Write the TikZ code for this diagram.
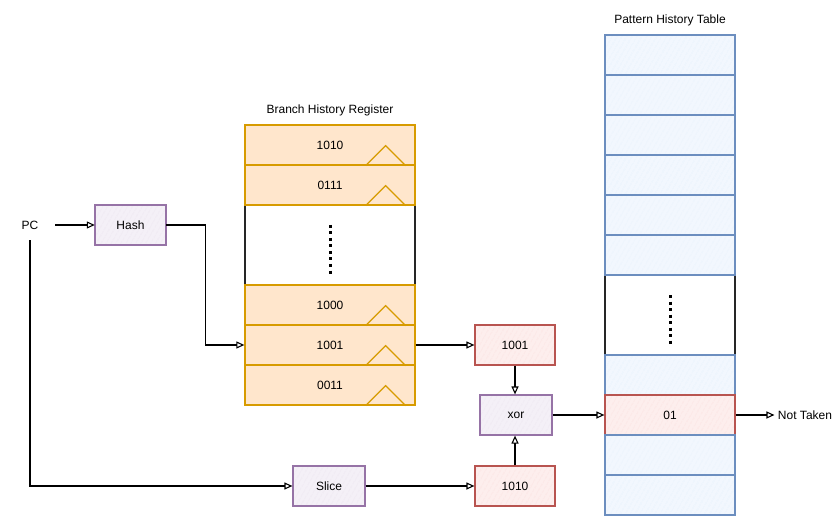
\documentclass[tikz,border=0pt]{standalone}
\usepackage{fontspec}
\setmainfont{Liberation Sans}
\definecolor{Orcolor}{HTML}{D79B00}
\definecolor{Orfill}{HTML}{FFE6CC}
\definecolor{Recolor}{HTML}{B85450}
\definecolor{Refill}{HTML}{F8CECC}
\definecolor{Pucolor}{HTML}{9673A6}
\definecolor{Pufill}{HTML}{E1D5E7}
\definecolor{Blcolor}{HTML}{6C8EBF}
\definecolor{Blfill}{HTML}{DAE8FC}
\usetikzlibrary{calc, positioning, arrows.meta, patterns.meta}

\begin{document}
\begin{tikzpicture}[
  x=1pt, y=-1pt,
  every node/.style={font=\fontsize{12}{14}\selectfont},
  bhrrow/.style={rectangle, draw=Orcolor, fill=Orfill, line width=1.3pt,
                 minimum width=170pt, minimum height=40pt},
  phtrow/.style={rectangle, draw=Blcolor, line width=1.2pt,
                 preaction={fill=Blfill!35},
                 pattern={Lines[angle=60,distance=4pt,line width=0.4pt]},
                 pattern color=Blfill,
                 minimum width=130pt, minimum height=40pt},
  redbox/.style={rectangle, draw=Recolor, line width=1.2pt,
                 preaction={fill=Refill!35},
                 pattern={Lines[angle=60,distance=4pt,line width=0.4pt]},
                 pattern color=Refill,
                 minimum width=80pt, minimum height=40pt},
  purbox/.style={rectangle, draw=Pucolor, line width=1.2pt,
                 preaction={fill=Pufill!35},
                 pattern={Lines[angle=60,distance=4pt,line width=0.4pt]},
                 pattern color=Pufill,
                 minimum width=72pt, minimum height=40pt},
  frame/.style={rectangle, draw=black!85, line width=1.1pt},
  trimark/.style={draw=Orcolor, line width=1.2pt},
  vdots/.style={line width=3pt, dash pattern=on 3pt off 3.5pt},
  arr/.style={-{Triangle[open, length=8pt, width=7pt]}, line width=1.1pt},
  lbl/.style={align=center}
]
\useasboundingbox (0,0) rectangle (840,521);

%% --- INPUT ---
\node[lbl, minimum width=50pt, minimum height=30pt] (pc) at (30,225) {PC};
\node[purbox, minimum width=71pt] (hash) at (130.5,225) {Hash};
\node[purbox] (slice) at (329,486) {Slice};

%% --- BRANCH HISTORY REGISTER ---
\node[lbl] (bhrtitle) at (330,110) {Branch History Register};
\node[frame, minimum width=170pt, minimum height=280pt] (bhr) at (330,265) {};
\node[bhrrow] (bhr1) at (330,145) {1010};
\node[bhrrow] (bhr2) at (330,185) {0111};
\node[bhrrow] (bhr4) at (330,305) {1000};
\node[bhrrow] (bhr5) at (330,345) {1001};
\node[bhrrow] (bhr6) at (330,385) {0011};
\foreach \r in {bhr1,bhr2,bhr4,bhr5,bhr6}
  \draw[trimark] ($(\r.south east)+(-50,0)$) -- ++(20,-20) -- ++(20,20);
\draw[vdots] (330,225) -- (330,277);

%% --- XOR STAGE ---
\node[redbox] (hist) at (515,345) {1001};
\node[purbox] (xor) at (516,415) {xor};
\node[redbox] (addr) at (515,486) {1010};

%% --- PATTERN HISTORY TABLE ---
\node[lbl] (phttitle) at (670,20) {Pattern History Table};
\node[frame, minimum width=130pt, minimum height=480pt] (pht) at (670,275) {};
\node[phtrow] (pht1) at (670,55) {};
\node[phtrow] (pht2) at (670,95) {};
\node[phtrow] (pht3) at (670,135) {};
\node[phtrow] (pht4) at (670,175) {};
\node[phtrow] (pht5) at (670,215) {};
\node[phtrow] (pht6) at (670,255) {};
\node[phtrow] (pht8) at (670,375) {};
\node[phtrow, draw=Recolor, preaction={fill=Refill!35},
      pattern color=Refill] (pht9) at (670,415) {01};
\node[phtrow] (pht10) at (670,455) {};
\node[phtrow] (pht11) at (670,495) {};
\draw[vdots] (670,295) -- (670,347);

\node[lbl] (taken) at (805,415) {Not Taken};

%% --- ARROWS ---
\draw[arr] (pc.east) -- (hash.west);
\draw[arr] (hash.east) -- ++(39,0) |- (bhr5.west);
\draw[arr] (pc.south) |- (slice.west);
\draw[arr] (slice.east) -- (addr.west);
\draw[arr] (bhr5.east) -- (hist.west);
\draw[arr] (hist.south) -- (hist.south |- xor.north);
\draw[arr] (addr.north) -- (addr.north |- xor.south);
\draw[arr] (xor.east) -- (pht9.west);
\draw[arr] (pht9.east) -- (taken.west);

\end{tikzpicture}
\end{document}
